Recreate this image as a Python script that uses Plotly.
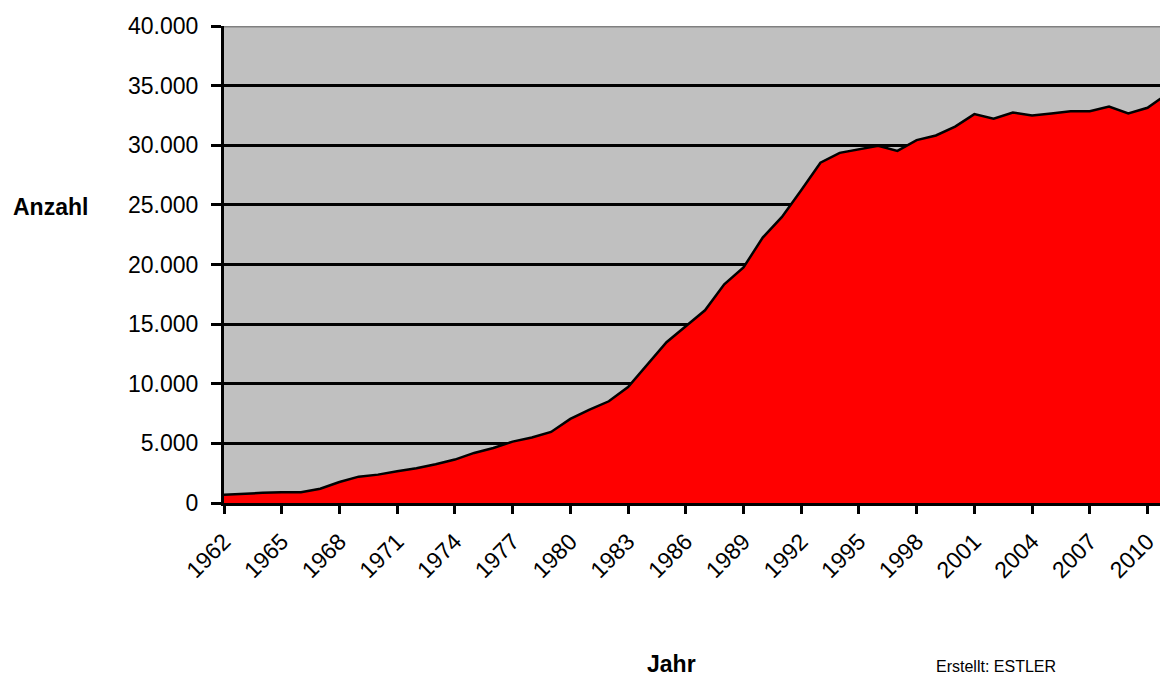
import plotly.graph_objects as go

years = list(range(1962, 2012))
anzahl = [700, 790, 850, 900, 900, 1200, 1760, 2210, 2380, 2660,
          2910, 3250, 3640, 4200, 4610, 5150, 5490, 5960, 7050, 7830,
          8530, 9730, 11640, 13480, 14820, 16160, 18340, 19750, 22260, 23990,
          26230, 28540, 29360, 29650, 29950, 29530, 30430, 30820, 31570, 32610,
          32220, 32750, 32500, 32670, 32860, 32860, 33250, 32670, 33140, 34270]
tick_years = list(range(1962, 2011, 3))
y_ticks = [0, 5000, 10000, 15000, 20000, 25000, 30000, 35000, 40000]

FONT = "Liberation Sans, Arial, sans-serif"

fig = go.Figure()
fig.add_trace(go.Scatter(
    x=years, y=anzahl, mode="lines", fill="tozeroy",
    fillcolor="#FF0000", line=dict(color="#000000", width=2.5),
    hoverinfo="x+y", showlegend=False))

W, H = 1160, 676
L, T, B, R = 224, 26, 173.3, 0
pw = W - L - R
ph = H - T - B
px_per_year = 19.24
x_max = 1962 + pw / px_per_year

fig.update_layout(
    width=W, height=H,
    margin=dict(l=L, r=R, t=T, b=B, pad=0),
    paper_bgcolor="white", plot_bgcolor="#C0C0C0",
    separators=",.",
    font=dict(family=FONT, size=23, color="black"),
    xaxis=dict(range=[1962, x_max], tickmode="array", tickvals=tick_years,
               ticktext=[str(y) for y in tick_years], tickangle=-45,
               showgrid=False, zeroline=False, showline=True,
               linecolor="black", linewidth=3, ticks="outside",
               ticklen=8, tickwidth=3, tickcolor="black",
               ticklabelstandoff=5,
               tickfont=dict(family=FONT, size=23)),
    yaxis=dict(range=[0, 40000], tickmode="array", tickvals=y_ticks,
               tickformat=",d", showgrid=True, gridcolor="black",
               gridwidth=2.5, zeroline=False, showline=True,
               linecolor="black", linewidth=3, ticks="outside",
               ticklen=10, tickwidth=3, tickcolor="black",
               ticklabelstandoff=8,
               tickfont=dict(family=FONT, size=23)),
    shapes=[dict(type="line", xref="paper", yref="y", x0=0, x1=1,
                 y0=40000, y1=40000, line=dict(color="#808080", width=3),
                 layer="above")],
    annotations=[
        dict(text="<b>Anzahl</b>", xref="paper", yref="paper",
             x=(50.5 - L) / pw, y=(H - B - 207) / ph, showarrow=False,
             font=dict(family=FONT, size=23), xanchor="center", yanchor="middle"),
        dict(text="<b>Jahr</b>", xref="paper", yref="paper",
             x=(671 - L) / pw, y=(H - B - 664) / ph, showarrow=False,
             font=dict(family=FONT, size=23), xanchor="center", yanchor="middle"),
        dict(text="Erstellt: ESTLER", xref="paper", yref="paper",
             x=(996 - L) / pw, y=(H - B - 666) / ph, showarrow=False,
             font=dict(family=FONT, size=16), xanchor="center", yanchor="middle"),
    ],
)

fig.write_html("out.html")
